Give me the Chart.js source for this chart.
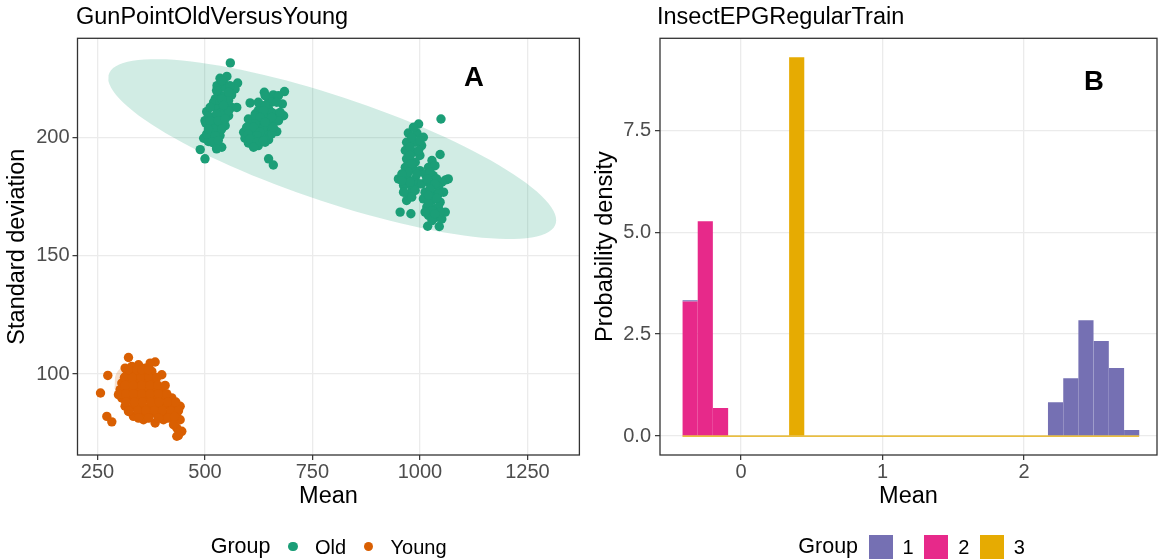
<!DOCTYPE html>
<html>
<head>
<meta charset="utf-8">
<script src="https://cdn.jsdelivr.net/npm/chart.js@4.4.1/dist/chart.umd.min.js"></script>
<style>
  html, body { margin: 0; padding: 0; background: #ffffff; }
  #wrap { position: relative; width: 1159px; height: 559px; overflow: hidden;
          font-family: "Liberation Sans", Arial, sans-serif; color: #000; }
  canvas { position: absolute; top: 0; }
  .title { position: absolute; top: 5px; font-size: 23.5px; line-height: 23.5px; white-space: nowrap; }
  .legend { position: absolute; top: 534.6px; display: flex; align-items: flex-start; white-space: nowrap; }
  .legend .head { font-size: 21.5px; line-height: 21.5px; margin-top: 1.5px; margin-right: 10.5px; }
  .legend .key { width: 24px; height: 24px; position: relative; margin-right: 10px; }
  .legend .lab { font-size: 20px; line-height: 20px; margin-top: 2.8px; margin-right: 10.5px; }
  .legend .dot { position: absolute; left: 7.3px; top: 7.3px; width: 9.4px; height: 9.4px; border-radius: 50%; }
</style>
</head>
<body>
<div id="wrap">
  <canvas id="panelA" width="590" height="559" style="left:0px"></canvas>
  <canvas id="panelB" width="569" height="559" style="left:590px"></canvas>
  <div class="title" style="left:76px">GunPointOldVersusYoung</div>
  <div class="title" style="left:657px">InsectEPGRegularTrain</div>
  <div class="legend" id="legendA" style="left:210.7px"></div>
  <div class="legend" id="legendB" style="left:798.3px"></div>
</div>
<script>
// ---------- panel A : mean vs standard deviation ----------
const GROUPS_A = ['Old', 'Young'];
const COLORS_A = ['#1B9E77', '#D95F02'];

// Old series: [mean, sd]
const OLD_POINTS = [
  // left block near 530
  [559, 231.4], [535, 224.9], [551, 225.7], [543, 223.2], [576, 222.9], [570, 220.4],
  [555, 220.1], [539, 221.1], [531, 218.3], [524, 216.2], [547, 217.6], [562, 217.9],
  [520, 214.8], [535, 214.8], [551, 214.8], [504, 210.8], [528, 211.9], [547, 212.2],
  [562, 212.6], [574, 212.6], [500, 207.0], [520, 208.4], [535, 209.1], [555, 209.1],
  [508, 209.1], [502, 206.0], [524, 205.6], [539, 206.3], [547, 204.9], [512, 202.1],
  [531, 202.1], [497, 199.6], [516, 200.0], [535, 200.7], [508, 198.2], [524, 197.2],
  [539, 195.8], [489, 194.8], [500, 190.9], [528, 221.8], [555, 215.5], [539, 210.5],
  [516, 204.2], [528, 199.3], [539, 223.9], [558, 221.8], [527, 219.7], [539, 216.2],
  [512, 212.6], [555, 211.2], [527, 209.8], [512, 207.0], [531, 207.0], [547, 207.7],
  [520, 203.5], [539, 203.5], [504, 201.4], [524, 200.7], [516, 197.9], [531, 198.6],
  [527, 195.1], [508, 203.5], [555, 219.0], [543, 213.4],
  // middle block near 640
  [638, 219.0], [659, 217.9], [685, 219.3], [671, 217.6], [648, 216.2], [605, 214.5],
  [628, 213.6], [655, 214.8], [680, 214.1], [624, 211.3], [648, 211.9], [667, 209.8],
  [683, 209.1], [640, 209.1], [601, 207.7], [621, 207.7], [609, 205.6], [628, 205.6],
  [652, 206.3], [671, 207.0], [590, 202.1], [605, 202.8], [621, 203.2], [640, 202.1],
  [667, 202.4], [593, 199.6], [613, 199.3], [632, 200.0], [648, 199.0], [601, 197.6],
  [624, 196.5], [640, 197.9], [648, 190.9], [659, 188.3], [617, 209.8], [636, 204.2],
  [655, 204.2], [609, 200.7], [655, 210.5], [640, 217.6], [624, 214.8], [640, 213.4],
  [667, 214.8], [636, 211.2], [617, 209.1], [655, 208.4], [628, 208.4], [617, 205.6],
  [640, 206.3], [597, 204.2], [613, 204.2], [628, 202.1], [655, 201.4], [601, 201.4],
  [621, 200.7], [605, 199.3], [621, 197.9], [636, 198.6], [613, 195.8], [659, 204.2],
  [675, 210.5],
  // right block near 1000
  [1049, 207.7], [1047, 192.7], [1066, 182.4], [1060, 182.0], [954, 168.4], [979, 167.7],
  [1018, 162.4], [1045, 162.3], [1059, 168.4], [997, 205.6], [973, 201.8], [993, 201.8],
  [1008, 200.0], [969, 197.9], [989, 197.9], [1004, 196.5], [966, 194.4], [985, 193.7],
  [1000, 192.3], [969, 190.9], [989, 189.5], [966, 187.3], [985, 186.6], [1000, 185.9],
  [950, 182.4], [969, 183.1], [989, 182.4], [962, 179.6], [981, 178.9], [973, 176.1],
  [969, 173.3], [997, 180.3], [1028, 190.2], [1020, 187.3], [1035, 188.0], [1012, 184.5],
  [1031, 183.8], [1051, 181.0], [1004, 180.3], [1024, 180.3], [1043, 178.9], [1012, 176.8],
  [1031, 176.1], [1055, 176.8], [1008, 174.0], [1028, 173.3], [1047, 172.6], [1016, 170.5],
  [1035, 169.8], [1020, 167.0], [1039, 166.2], [1028, 164.8], [1051, 165.5],
  [985, 204.2], [981, 200.0], [1000, 198.6], [977, 195.8], [997, 194.4], [977, 192.3],
  [981, 188.8], [973, 185.2], [993, 184.5], [958, 184.5], [977, 181.0], [962, 176.8],
  [989, 177.5], [981, 174.7], [958, 181.7], [1024, 185.2], [1039, 182.4], [1016, 182.4],
  [1035, 180.3], [1024, 178.2], [1043, 176.1], [1020, 175.4], [1039, 174.3], [1020, 171.9],
  [1043, 170.5], [1028, 169.0], [1047, 168.4], [1012, 168.4], [1035, 167.7]
];

// Young series: [mean, sd]
const YOUNG_POINTS = [
  [322.1, 107.0], [274.0, 99.4], [257.0, 92.0], [271.7, 82.1], [283.3, 79.8], [399.6, 99.7],
  [384.1, 105.1], [372.5, 104.6], [434.5, 73.7], [446.1, 75.8], [329.8, 103.2], [345.4, 103.9],
  [360.9, 102.5], [318.2, 99.7], [337.6, 100.4], [357.0, 99.7], [376.4, 101.1], [306.6, 96.2],
  [326.0, 96.9], [345.4, 96.9], [364.7, 96.9], [384.1, 97.6], [302.7, 93.4], [322.1, 93.4],
  [341.5, 93.4], [360.9, 93.4], [380.2, 94.1], [399.6, 94.1], [306.6, 89.9], [326.0, 89.9],
  [345.4, 89.9], [364.7, 89.9], [384.1, 89.9], [403.5, 90.6], [422.9, 89.9], [314.3, 86.4],
  [333.7, 86.4], [353.1, 86.4], [372.5, 86.4], [391.9, 86.4], [411.2, 87.1], [430.6, 86.4],
  [442.3, 86.4], [333.7, 82.1], [357.0, 82.8], [380.2, 83.5], [399.6, 82.8], [419.0, 83.5],
  [434.5, 83.5], [357.0, 80.7], [384.1, 79.3], [403.5, 80.7], [426.8, 80.7], [434.5, 77.2],
  [438.4, 74.1], [314.3, 102.5], [298.8, 91.3], [322.1, 84.2], [345.4, 82.8],
  [312.8, 98.6], [331.4, 98.6], [351.5, 98.6], [370.2, 98.6], [388.0, 98.6],
  [314.3, 95.2], [333.7, 95.2], [353.1, 95.2], [372.5, 95.2], [390.3, 95.2], [407.4, 95.2],
  [305.0, 91.6], [315.9, 91.6], [333.7, 91.6], [353.1, 91.6], [372.5, 91.6], [391.9, 91.6],
  [411.2, 91.6], [315.9, 88.2], [336.0, 88.2], [354.7, 88.2], [374.8, 88.2], [393.4, 88.2],
  [413.6, 88.2], [432.2, 88.2], [323.6, 84.5], [343.8, 84.5], [362.4, 84.5], [382.6, 84.5],
  [401.2, 84.5], [421.3, 84.5], [438.4, 84.5], [345.4, 81.4], [368.6, 81.4], [391.9, 81.4],
  [413.6, 81.4], [322.1, 101.8], [341.5, 101.8], [353.1, 101.8], [368.6, 101.8],
  [426.8, 78.6], [442.3, 80.7], [429.1, 82.1]
];

// confidence ellipses: centre mean, centre sd, half width, half height, correlation
const OLD_ELLIPSE = [796, 195, 521, 38, -0.79];
const YOUNG_ELLIPSE = [357.8, 91.4, 68.6, 12.5, -0.4];

const X_TICKS_A = [250, 500, 750, 1000, 1250];
const X_LABELS_A = ['250', '500', '750', '1000', '1250'];
const Y_TICKS_A = [100, 150, 200];
const Y_LABELS_A = ['100', '150', '200'];

// ---------- panel B : histogram of means ----------
const GROUPS_B = ['1', '2', '3'];
const COLORS_B = ['#7570B3', '#E7298A', '#E6AB02'];
const BIN_CENTERS = [
  -0.359, -0.252, -0.144, -0.036, 0.071, 0.179, 0.287, 0.394, 0.502, 0.609,
  0.717, 0.824, 0.932, 1.040, 1.147, 1.255, 1.362, 1.470, 1.578, 1.685,
  1.793, 1.900, 2.008, 2.116, 2.223, 2.331, 2.438, 2.546, 2.654, 2.761
];
const BIN_RANGE = [-0.413, 2.814];
const DENSITY_1 = [0.03, 0, 0, 0, 0, 0, 0, 0, 0, 0, 0, 0, 0, 0, 0, 0, 0, 0, 0, 0,
                   0, 0, 0, 0, 0.83, 1.42, 2.84, 2.33, 1.67, 0.15];
const DENSITY_2 = [3.30, 5.27, 0.69, 0, 0, 0, 0, 0, 0, 0, 0, 0, 0, 0, 0, 0, 0, 0, 0, 0,
                   0, 0, 0, 0, 0, 0, 0, 0, 0, 0];
const DENSITY_3 = [0, 0, 0, 0, 0, 0, 0, 9.29, 0, 0, 0, 0, 0, 0, 0, 0, 0, 0, 0, 0,
                   0, 0, 0, 0, 0, 0, 0, 0, 0, 0];
const X_TICKS_B = [0, 1, 2];
const X_LABELS_B = ['0', '1', '2'];
const Y_TICKS_B = [0, 2.5, 5, 7.5];
const Y_LABELS_B = ['0.0', '2.5', '5.0', '7.5'];

// ---------- shared look ----------
const FONT = '"Liberation Sans", Arial, sans-serif';
Chart.defaults.font.family = FONT;
Chart.defaults.animation = false;

const gridStyle = {
  color: '#EBEBEB', lineWidth: 1.3,
  tickColor: '#333333', tickLength: 5, tickWidth: 1.2
};

function ellipsePath(e) {
  const [cx, cy, a, b, rho] = e;
  const s = Math.sqrt(1 - rho * rho);
  const pts = [];
  for (let i = 0; i <= 120; i++) {
    const t = i / 120 * 2 * Math.PI;
    pts.push({ x: cx + a * Math.cos(t), y: cy + b * (rho * Math.cos(t) + s * Math.sin(t)) });
  }
  return pts;
}

function fixedTicks(values) {
  return scale => { scale.ticks = values.map(v => ({ value: v })); };
}

function labelFor(values, labels) {
  return v => labels[values.indexOf(v)];
}

// letter in the panel plus the dark panel frame
const panelDecor = {
  id: 'panelDecor',
  afterDraw(chart, args, opts) {
    const { ctx, chartArea: a } = chart;
    const { x, y } = chart.scales;
    ctx.save();
    ctx.strokeStyle = '#333333';
    ctx.lineWidth = 1.3;
    ctx.strokeRect(a.left, a.top, a.right - a.left, a.bottom - a.top);
    ctx.font = 'bold 27.5px ' + FONT;
    ctx.fillStyle = '#000000';
    ctx.textAlign = 'center';
    ctx.textBaseline = 'middle';
    ctx.fillText(opts.text, x.getPixelForValue(opts.at[0]), y.getPixelForValue(opts.at[1]));
    ctx.restore();
  }
};

function axisTitle(text, padding) {
  return { display: true, text, color: '#000000', font: { size: 23.5 }, padding };
}

function tickStyle(padding) {
  return { color: '#4D4D4D', font: { size: 20 }, padding, maxRotation: 0, autoSkip: false };
}

// ---------- panel A ----------
new Chart(document.getElementById('panelA'), {
  type: 'scatter',
  data: {
    datasets: [
      { type: 'line', data: ellipsePath(OLD_ELLIPSE), fill: 'shape', backgroundColor: COLORS_A[0] + '33',
        borderWidth: 0, pointRadius: 0, tension: 0, order: 3 },
      { type: 'line', data: ellipsePath(YOUNG_ELLIPSE), fill: 'shape', backgroundColor: COLORS_A[1] + '33',
        borderWidth: 0, pointRadius: 0, tension: 0, order: 3 },
      { label: GROUPS_A[0], data: OLD_POINTS.map(p => ({ x: p[0], y: p[1] })),
        backgroundColor: COLORS_A[0], borderWidth: 0, pointRadius: 4.7, order: 1 },
      { label: GROUPS_A[1], data: YOUNG_POINTS.map(p => ({ x: p[0], y: p[1] })),
        backgroundColor: COLORS_A[1], borderWidth: 0, pointRadius: 4.7, order: 1 }
    ]
  },
  plugins: [panelDecor],
  options: {
    responsive: false,
    events: [],
    layout: { padding: { left: 0, top: 38.3, right: 10.6, bottom: 39 } },
    plugins: {
      legend: { display: false },
      tooltip: { enabled: false },
      panelDecor: { text: 'A', at: [1125.6, 224.9] }
    },
    scales: {
      x: {
        type: 'linear', min: 203.5, max: 1371,
        afterBuildTicks: fixedTicks(X_TICKS_A),
        afterFit(scale) { scale.height = 65; },
        ticks: { ...tickStyle(0), callback: labelFor(X_TICKS_A, X_LABELS_A) },
        grid: gridStyle,
        border: { display: false },
        title: axisTitle('Mean', { top: 0, bottom: 9 })
      },
      y: {
        type: 'linear', min: 65.8, max: 241.8,
        afterBuildTicks: fixedTicks(Y_TICKS_A),
        afterFit(scale) { scale.width = 77.5; },
        ticks: { ...tickStyle(3), callback: labelFor(Y_TICKS_A, Y_LABELS_A) },
        grid: gridStyle,
        border: { display: false },
        title: axisTitle('Standard deviation', { top: 3.2, bottom: 0 })
      }
    }
  }
});

// ---------- panel B ----------
const densities = [DENSITY_3, DENSITY_2, DENSITY_1];
const barColors = [COLORS_B[2], COLORS_B[1], COLORS_B[0]];
const barSets = densities.map((d, i) => ({
  type: 'bar',
  data: BIN_CENTERS.map((c, k) => ({ x: c, y: d[k] })),
  backgroundColor: barColors[i],
  borderWidth: 0,
  inflateAmount: 0,
  barPercentage: 1,
  categoryPercentage: 1
}));
barSets.push({
  type: 'line',
  data: BIN_RANGE.map(v => ({ x: v, y: 0 })),
  borderColor: COLORS_B[2], borderWidth: 1.2, pointRadius: 0, fill: false, order: -1
});

new Chart(document.getElementById('panelB'), {
  type: 'bar',
  data: { datasets: barSets },
  plugins: [panelDecor],
  options: {
    responsive: false,
    events: [],
    layout: { padding: { left: 0, top: 38.3, right: 2, bottom: 39 } },
    plugins: {
      legend: { display: false },
      tooltip: { enabled: false },
      panelDecor: { text: 'B', at: [2.495, 8.68] }
    },
    scales: {
      x: {
        type: 'linear', min: -0.572, max: 2.94, offset: false, stacked: true,
        afterBuildTicks: fixedTicks(X_TICKS_B),
        afterFit(scale) { scale.height = 65; },
        ticks: { ...tickStyle(0), callback: labelFor(X_TICKS_B, X_LABELS_B) },
        grid: { ...gridStyle, offset: false },
        border: { display: false },
        title: axisTitle('Mean', { top: 0, bottom: 9 })
      },
      y: {
        type: 'linear', min: -0.4645, max: 9.7545, stacked: true,
        afterBuildTicks: fixedTicks(Y_TICKS_B),
        afterFit(scale) { scale.width = 70; },
        ticks: { ...tickStyle(4), callback: labelFor(Y_TICKS_B, Y_LABELS_B) },
        grid: gridStyle,
        border: { display: false },
        title: axisTitle('Probability density', { top: 1, bottom: 0 })
      }
    }
  }
});

// ---------- legends ----------
function buildLegend(el, groups, colors, round) {
  const head = document.createElement('span');
  head.className = 'head';
  head.textContent = 'Group';
  el.appendChild(head);
  groups.forEach((g, i) => {
    const key = document.createElement('span');
    key.className = 'key';
    if (round) {
      const dot = document.createElement('span');
      dot.className = 'dot';
      dot.style.background = colors[i];
      key.appendChild(dot);
    } else {
      key.style.background = colors[i];
    }
    const lab = document.createElement('span');
    lab.className = 'lab';
    lab.textContent = g;
    el.appendChild(key);
    el.appendChild(lab);
  });
}
buildLegend(document.getElementById('legendA'), GROUPS_A, COLORS_A, true);
buildLegend(document.getElementById('legendB'), GROUPS_B, COLORS_B, false);
</script>
</body>
</html>
